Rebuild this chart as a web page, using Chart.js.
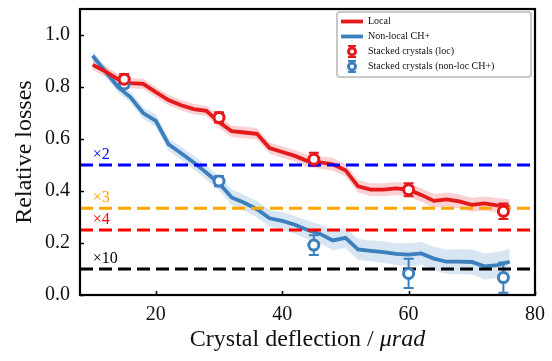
<!DOCTYPE html>
<html>
<head>
<meta charset="utf-8">
<script src="https://cdn.jsdelivr.net/npm/chart.js@4.4.1/dist/chart.umd.min.js"></script>
<style>
  html, body { margin: 0; padding: 0; background: #fff; }
  #wrap { width: 552px; height: 361px; }
</style>
</head>
<body>
<div id="wrap"><canvas id="chart" width="552" height="361"></canvas></div>
<script>
// Crystal deflection (µrad) sampled along the simulated curves
const deflection = [10, 12, 14, 16, 18, 20, 22, 24, 26, 28, 30, 32, 34, 36, 38, 40, 42, 44, 46, 48, 50, 52, 54, 56, 58, 60, 62, 64, 66, 68, 70, 72, 74, 76]
const localLoss = [0.885, 0.86, 0.83, 0.815, 0.812, 0.78, 0.75, 0.73, 0.715, 0.708, 0.665, 0.63, 0.625, 0.62, 0.565, 0.55, 0.535, 0.515, 0.51, 0.503, 0.48, 0.418, 0.405, 0.405, 0.41, 0.405, 0.385, 0.362, 0.368, 0.36, 0.347, 0.352, 0.345, 0.34]
const localBand = [0.02, 0.02, 0.02, 0.02, 0.02, 0.02, 0.02, 0.02, 0.02, 0.02, 0.022, 0.022, 0.022, 0.022, 0.022, 0.022, 0.022, 0.024, 0.024, 0.024, 0.024, 0.024, 0.025, 0.025, 0.025, 0.025, 0.026, 0.026, 0.026, 0.027, 0.027, 0.027, 0.028, 0.028]
const nonlocalLoss = [0.92, 0.86, 0.8, 0.76, 0.7, 0.67, 0.58, 0.545, 0.51, 0.47, 0.43, 0.375, 0.355, 0.33, 0.295, 0.285, 0.27, 0.25, 0.235, 0.21, 0.22, 0.175, 0.17, 0.165, 0.158, 0.155, 0.16, 0.14, 0.128, 0.128, 0.127, 0.11, 0.115, 0.128]
const nonlocalBand = [0.02, 0.02, 0.02, 0.022, 0.022, 0.024, 0.024, 0.026, 0.026, 0.028, 0.028, 0.03, 0.03, 0.032, 0.032, 0.034, 0.034, 0.036, 0.036, 0.038, 0.038, 0.04, 0.04, 0.042, 0.042, 0.044, 0.044, 0.046, 0.046, 0.048, 0.048, 0.05, 0.05, 0.05]

// Stacked crystal measurements
const stackedX = [15, 30, 45, 60, 75]
const stackedLoc = [0.83, 0.683, 0.522, 0.405, 0.322]
const stackedLocErr = [0.02, 0.02, 0.025, 0.025, 0.03]
const stackedNonloc = [0.812, 0.438, 0.192, 0.083, 0.067]
const stackedNonlocErr = [0.015, 0.02, 0.038, 0.056, 0.058]

// Reference reduction factors
const refLabels = ["×2", "×3", "×4", "×10"]
const refValues = [0.5, 1 / 3, 0.25, 0.1]
const refColors = ["#0000ff", "#ffa500", "#ff0000", "#000000"]

const xTicks = [20, 40, 60, 80]
const yTicks = [0, 0.2, 0.4, 0.6, 0.8, 1.0]

const RED = "#e3191c"
const BLUE = "#3b7fbd"
const SERIF = "'Liberation Serif', 'Times New Roman', serif"

const pts = (xs, ys) => xs.map((x, i) => ({ x: x, y: ys[i] }))

const datasets = [
  // shaded bands
  { data: pts(deflection, localLoss.map((v, i) => v + localBand[i])), showLine: true, borderWidth: 0, pointRadius: 0, fill: "+1", backgroundColor: "rgba(227,25,28,0.2)", order: 5 },
  { data: pts(deflection, localLoss.map((v, i) => v - localBand[i])), showLine: true, borderWidth: 0, pointRadius: 0, fill: false, order: 5 },
  { data: pts(deflection, nonlocalLoss.map((v, i) => v + nonlocalBand[i])), showLine: true, borderWidth: 0, pointRadius: 0, fill: "+1", backgroundColor: "rgba(59,127,189,0.2)", order: 5 },
  { data: pts(deflection, nonlocalLoss.map((v, i) => v - nonlocalBand[i])), showLine: true, borderWidth: 0, pointRadius: 0, fill: false, order: 5 },
  // main curves
  { data: pts(deflection, localLoss), showLine: true, borderColor: RED, borderWidth: 3.8, pointRadius: 0, order: 3 },
  { data: pts(deflection, nonlocalLoss), showLine: true, borderColor: BLUE, borderWidth: 3.8, pointRadius: 0, order: 3 },
]

// dashed reference lines
refValues.forEach((v, i) => {
  datasets.push({ data: [{ x: 8, y: v }, { x: 80, y: v }], showLine: true, borderColor: refColors[i], borderWidth: 3, borderDash: [13, 6], pointRadius: 0, order: 2 })
})

// stacked crystal markers
datasets.push({ data: pts(stackedX, stackedLoc), pointRadius: 5, pointBorderWidth: 3, pointBorderColor: RED, pointBackgroundColor: "#fff", showLine: false, order: 0 })
datasets.push({ data: pts(stackedX, stackedNonloc), pointRadius: 5, pointBorderWidth: 3, pointBorderColor: BLUE, pointBackgroundColor: "#fff", showLine: false, order: 0 })

// error bars under markers, frame, ticks, labels, legend
const decor = {
  id: "decor",
  beforeDatasetsDraw(chart) {
    const ctx = chart.ctx
    const xs = chart.scales.x, ys = chart.scales.y
    const drawErr = (xv, yv, ev, color) => {
      ctx.strokeStyle = color
      ctx.lineWidth = 2
      xv.forEach((x, i) => {
        const px = xs.getPixelForValue(x)
        const top = ys.getPixelForValue(yv[i] + ev[i])
        const bot = ys.getPixelForValue(yv[i] - ev[i])
        ctx.beginPath()
        ctx.moveTo(px, top); ctx.lineTo(px, bot)
        ctx.moveTo(px - 5, top); ctx.lineTo(px + 5, top)
        ctx.moveTo(px - 5, bot); ctx.lineTo(px + 5, bot)
        ctx.stroke()
      })
    }
    ctx.save()
    drawErr(stackedX, stackedLoc, stackedLocErr, RED)
    drawErr(stackedX, stackedNonloc, stackedNonlocErr, BLUE)
    ctx.restore()
  },
  afterDraw(chart) {
    const ctx = chart.ctx
    const a = chart.chartArea
    const xs = chart.scales.x, ys = chart.scales.y
    ctx.save()

    // factor labels
    ctx.font = "16px " + SERIF
    ctx.textAlign = "left"
    ctx.textBaseline = "alphabetic"
    refValues.forEach((v, i) => {
      ctx.fillStyle = refColors[i]
      ctx.fillText(refLabels[i], xs.getPixelForValue(10), ys.getPixelForValue(v) - 6)
    })

    // frame
    ctx.strokeStyle = "#000"
    ctx.lineWidth = 2.2
    ctx.strokeRect(a.left, a.top, a.right - a.left, a.bottom - a.top)

    // inward ticks
    ctx.lineWidth = 1.5
    ctx.beginPath()
    yTicks.forEach((t) => {
      const py = Math.round(ys.getPixelForValue(t)) + 0.5
      ctx.moveTo(a.left, py); ctx.lineTo(a.left + 4, py)
    })
    xTicks.forEach((t) => {
      const px = Math.round(xs.getPixelForValue(t)) + 0.5
      ctx.moveTo(px, a.bottom); ctx.lineTo(px, a.bottom - 4)
    })
    ctx.stroke()

    // axis titles
    ctx.fillStyle = "#111"
    ctx.textBaseline = "middle"
    const t1 = "Crystal deflection / "
    const t2 = "\u03bcrad"
    ctx.font = "24px " + SERIF
    const w1 = ctx.measureText(t1).width
    ctx.font = "italic 24px " + SERIF
    const w2 = ctx.measureText(t2).width
    const x0 = (a.left + a.right) / 2 - (w1 + w2) / 2
    ctx.textAlign = "left"
    ctx.font = "24px " + SERIF
    ctx.fillText(t1, x0, 340)
    ctx.font = "italic 24px " + SERIF
    ctx.fillText(t2, x0 + w1, 340)

    ctx.save()
    ctx.translate(25, (a.top + a.bottom) / 2)
    ctx.rotate(-Math.PI / 2)
    ctx.font = "24px " + SERIF
    ctx.textAlign = "center"
    ctx.fillText("Relative losses", 0, 0)
    ctx.restore()

    // legend
    const lx = 337, ly = 12, lw = 194, lh = 65
    ctx.fillStyle = "rgba(255,255,255,0.85)"
    ctx.strokeStyle = "#c8c8c8"
    ctx.lineWidth = 2
    ctx.beginPath()
    ctx.roundRect(lx, ly, lw, lh, 3)
    ctx.fill()
    ctx.stroke()

    const rows = [
      { text: "Local", kind: "line", color: RED },
      { text: "Non-local CH+", kind: "line", color: BLUE },
      { text: "Stacked crystals (loc)", kind: "mark", color: RED },
      { text: "Stacked crystals (non-loc CH+)", kind: "mark", color: BLUE },
    ]
    ctx.font = "10px " + SERIF
    ctx.textAlign = "left"
    ctx.textBaseline = "middle"
    rows.forEach((r, i) => {
      const cy = 21.5 + i * 15
      if (r.kind === "line") {
        ctx.strokeStyle = r.color
        ctx.lineWidth = 3.8
        ctx.beginPath()
        ctx.moveTo(341, cy); ctx.lineTo(363, cy)
        ctx.stroke()
      } else {
        ctx.strokeStyle = r.color
        ctx.lineWidth = 2
        ctx.beginPath()
        ctx.moveTo(348, cy - 5.5); ctx.lineTo(356, cy - 5.5)
        ctx.moveTo(348, cy + 5.5); ctx.lineTo(356, cy + 5.5)
        ctx.moveTo(352, cy - 5.5); ctx.lineTo(352, cy + 5.5)
        ctx.stroke()
        ctx.lineWidth = 3
        ctx.fillStyle = "#fff"
        ctx.beginPath()
        ctx.arc(352, cy, 3.5, 0, Math.PI * 2)
        ctx.fill()
        ctx.stroke()
      }
      ctx.fillStyle = "#111"
      ctx.fillText(r.text, 368, cy)
    })
    ctx.restore()
  },
}

const chart = new Chart(document.getElementById("chart"), {
  type: "scatter",
  data: { datasets: datasets },
  options: {
    responsive: false,
    animation: false,
    layout: { padding: { top: 9, right: 17, left: 0, bottom: 0 } },
    plugins: { legend: { display: false }, tooltip: { enabled: false } },
    elements: { line: { tension: 0, borderCapStyle: "butt" } },
    scales: {
      x: {
        type: "linear",
        min: 8,
        max: 80,
        afterBuildTicks: (s) => { s.ticks = xTicks.map((v) => ({ value: v })) },
        grid: { display: false, drawTicks: false },
        border: { display: false },
        ticks: { font: { family: SERIF, size: 20 }, color: "#111", padding: 8, maxRotation: 0 },
        afterFit: (s) => { s.height = 66; s.paddingLeft = 0; s.paddingRight = 0 },
      },
      y: {
        type: "linear",
        min: 0,
        max: 1.1,
        afterBuildTicks: (s) => { s.ticks = yTicks.map((v) => ({ value: v })) },
        grid: { display: false, drawTicks: false },
        border: { display: false },
        ticks: { font: { family: SERIF, size: 20 }, color: "#111", padding: 10, callback: (v) => v.toFixed(1) },
        afterFit: (s) => { s.width = 80; s.paddingTop = 0; s.paddingBottom = 0 },
      },
    },
  },
  plugins: [decor],
})
</script>
</body>
</html>
